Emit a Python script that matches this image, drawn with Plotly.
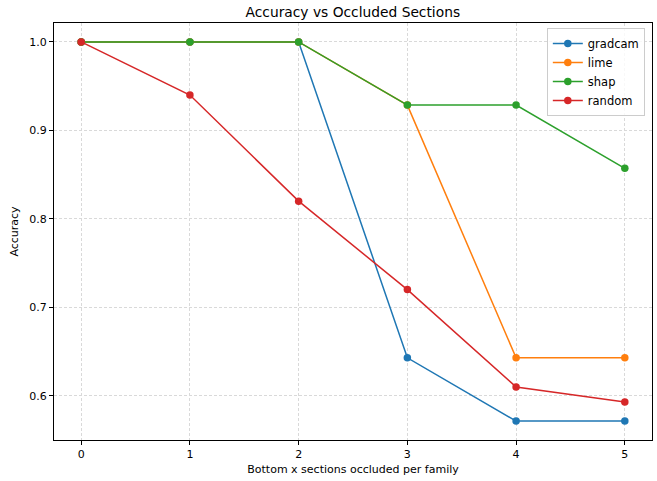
import plotly.graph_objects as go

# Accuracy after occluding the bottom x sections per family
sections = [0, 1, 2, 3, 4, 5]
gradcam = [1.0, 1.0, 1.0, 0.6429, 0.5714, 0.5714]
lime = [1.0, 1.0, 1.0, 0.9286, 0.6429, 0.6429]
shap = [1.0, 1.0, 1.0, 0.9286, 0.9286, 0.8571]
random_occ = [1.0, 0.94, 0.82, 0.72, 0.61, 0.593]

series = [
    ("gradcam", gradcam, "#1f77b4"),
    ("lime", lime, "#ff7f0e"),
    ("shap", shap, "#2ca02c"),
    ("random", random_occ, "#d62728"),
]

fig = go.Figure()
for name, vals, color in series:
    fig.add_trace(go.Scatter(
        x=sections, y=vals, name=name, mode="lines+markers",
        line=dict(color=color, width=1.5),
        marker=dict(color=color, size=7.5, symbol="circle"),
    ))

axis_common = dict(
    showline=True, linecolor="black", linewidth=1, mirror=True,
    ticks="outside", ticklen=4, tickcolor="black",
    showgrid=True, gridcolor="#d9d9d9", griddash="3px,2px", gridwidth=0.8,
    zeroline=False, tickfont=dict(size=11, color="black"),
)

fig.update_layout(
    width=657, height=481,
    margin=dict(l=54, r=5, t=23, b=41),
    paper_bgcolor="white", plot_bgcolor="white",
    font=dict(family="DejaVu Sans", color="black"),
    title=dict(text="Accuracy vs Occluded Sections", x=0.537, xanchor="center",
               y=0.975, yanchor="middle", font=dict(size=13.8)),
    xaxis=dict(range=[-0.25, 5.25], tickvals=sections,
               title=dict(text="Bottom x sections occluded per family",
                          font=dict(size=11), standoff=5),
               **axis_common),
    yaxis=dict(range=[0.5500, 1.0214], tickvals=[0.6, 0.7, 0.8, 0.9, 1.0],
               tickformat=".1f",
               title=dict(text="Accuracy", font=dict(size=11), standoff=8),
               **axis_common),
    legend=dict(x=0.988, xanchor="right", y=0.988, yanchor="top",
                bgcolor="rgba(255,255,255,0.8)", bordercolor="#cccccc",
                borderwidth=1, font=dict(size=11.5), tracegroupgap=0),
    showlegend=True,
)

fig.write_html("out.html")
